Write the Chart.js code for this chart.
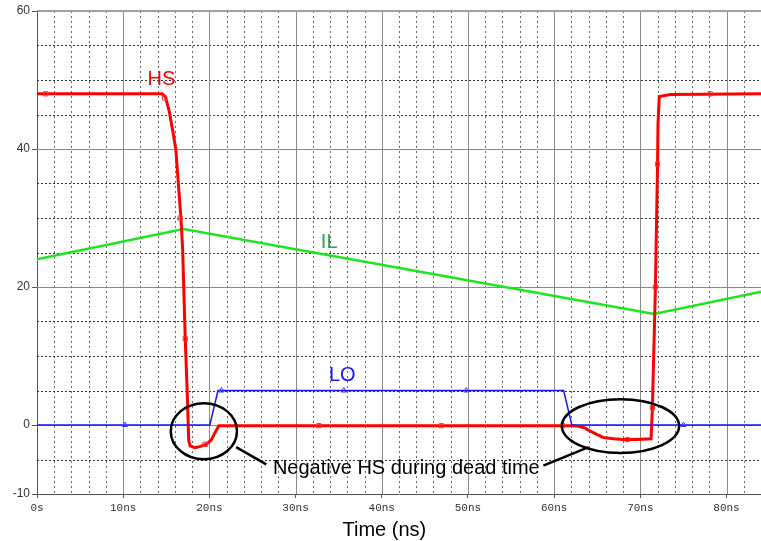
<!DOCTYPE html>
<html>
<head>
<meta charset="utf-8">
<script src="https://cdn.jsdelivr.net/npm/chart.js@4/dist/chart.umd.min.js"></script>
<style>
  html, body { margin:0; padding:0; background:#fff; }
  canvas { display:block; }
</style>
</head>
<body>
<canvas id="grafico" width="761" height="541"></canvas>
<script>
// ===============================
// DATA
// ===============================

// HS node voltage (red)
const hsTime = [0, 14.5, 14.9, 15.35, 15.8, 16.1, 16.4, 16.7, 16.9, 17.2, 17.45, 17.6, 17.75, 18.3, 19.0, 19.6, 20.2, 20.7, 21.1,
                62.0, 62.8, 63.5, 64.2, 65.0, 65.7, 66.9, 68.0, 69.5, 71.25, 71.4, 71.75, 72.0, 72.05, 72.2, 73.5, 84];
const hsVolt = [48, 48, 47.6, 45.4, 42.3, 40, 35, 30, 25.4, 12.5, 4, -2.2, -3.0, -3.3, -3.1, -2.8, -2.2, -1.0, -0.1,
                -0.1, -0.2, -0.4, -0.9, -1.4, -1.8, -2.0, -2.1, -2.1, -2.0, 2.5, 20, 38, 43.7, 47.6, 47.9, 48];
const hsMarkTime = [1.0, 14.8, 16.6, 17.2, 19.5, 32.7, 46.9, 61.0, 68.5, 71.4, 71.75, 72.0, 78.1];
const hsMarkVolt = [48, 47.4, 30, 12.5, -2.8, -0.1, -0.1, -0.1, -2.1, 2.5, 20, 37.8, 48];

// LO gate (blue)
const loTime = [0, 20.05, 21.0, 61.1, 62.05, 84];
const loVolt = [0, 0, 5, 5, 0, 0];
const loMarkTime = [10.2, 21.4, 35.6, 49.8, 75.0];
const loMarkVolt = [0, 5, 5, 5, 0];

// IL inductor current (green)
const ilTime = [0, 17.0, 71.6, 84];
const ilAmp  = [24.0, 28.4, 16.1, 19.3];

// axes
const xTicks = [0, 10, 20, 30, 40, 50, 60, 70, 80];
const yTicks = [-10, 0, 20, 40, 60];

// ===============================
// GRID (PSpice style)
// ===============================

const gradePlugin = {
  id: "grade",
  beforeDatasetsDraw(chart){
    const {ctx, chartArea:a, scales:{x, y}} = chart;
    ctx.save();
    ctx.lineWidth = 1;

    // minor vertical, every 2ns
    ctx.setLineDash([2,3]);
    ctx.strokeStyle = "#666";
    for(let t = 2; t < x.max; t += 2){
      if(t % 10 === 0) continue;
      const px = Math.round(x.getPixelForValue(t)) + 0.5;
      ctx.beginPath(); ctx.moveTo(px, a.top); ctx.lineTo(px, a.bottom); ctx.stroke();
    }

    // minor horizontal, every 5
    ctx.setLineDash([2,2]);
    ctx.strokeStyle = "#333";
    for(let v = -5; v < 60; v += 5){
      if(v % 20 === 0) continue;
      const py = Math.round(y.getPixelForValue(v)) + 0.5;
      ctx.beginPath(); ctx.moveTo(a.left, py); ctx.lineTo(a.right, py); ctx.stroke();
    }

    // major lines
    ctx.setLineDash([]);
    ctx.strokeStyle = "#8a8a8a";
    xTicks.forEach(t=>{
      if(t === 0) return;
      const px = Math.round(x.getPixelForValue(t)) + 0.5;
      ctx.beginPath(); ctx.moveTo(px, a.top); ctx.lineTo(px, a.bottom); ctx.stroke();
    });
    [0, 20, 40].forEach(v=>{
      const py = Math.round(y.getPixelForValue(v)) + 0.5;
      ctx.beginPath(); ctx.moveTo(a.left, py); ctx.lineTo(a.right, py); ctx.stroke();
    });

    // top frame
    ctx.strokeStyle = "#a0a0a0";
    ctx.lineWidth = 2;
    ctx.beginPath(); ctx.moveTo(a.left, a.top); ctx.lineTo(a.right, a.top); ctx.stroke();

    ctx.restore();
  }
};

// ===============================
// ANNOTATIONS
// ===============================

const anotacaoPlugin = {
  id: "anotacao",
  afterDatasetsDraw(chart){
    const {ctx, chartArea:a, scales:{x, y}} = chart;
    const px = v => x.getPixelForValue(v);
    const py = v => y.getPixelForValue(v);

    ctx.save();

    // ellipses round the negative HS
    ctx.strokeStyle = "#000";
    ctx.lineWidth = 2.5;
    [[19.36, -0.9, 3.84, 4.06], [67.7, -0.15, 6.8, 3.9]].forEach(e=>{
      ctx.beginPath();
      ctx.ellipse(px(e[0]), py(e[1]), px(e[0] + e[2]) - px(e[0]), py(e[1]) - py(e[1] + e[3]), 0, 0, Math.PI*2);
      ctx.stroke();
    });

    // callout lines
    [[23.1, -3.2, 26.6, -5.7], [58.75, -5.9, 64.0, -3.2]].forEach(l=>{
      ctx.beginPath();
      ctx.moveTo(px(l[0]), py(l[1]));
      ctx.lineTo(px(l[2]), py(l[3]));
      ctx.stroke();
    });

    ctx.textAlign = "center";
    ctx.textBaseline = "middle";

    ctx.font = "20px 'Liberation Sans', Arial, sans-serif";
    ctx.fillStyle = "#000";
    ctx.fillText("Negative HS during dead time", px(42.85), py(-6.23));

    // trace names
    ctx.fillStyle = "#ff0000";
    ctx.fillText("HS", px(14.43), py(50.1));
    ctx.fillStyle = "#1515ff";
    ctx.fillText("LO", px(35.42), py(7.2));
    ctx.fillStyle = "#2aa84a";
    ctx.fillText("IL", px(33.9), py(26.5));

    // axis title
    ctx.fillStyle = "#000";
    ctx.fillText("Time (ns)", px(40.3), a.bottom + 36);

    ctx.restore();
  }
};

// ===============================
// CHART
// ===============================

const pts = (xs, ys) => xs.map((t, i) => ({x: t, y: ys[i]}));

const ctx = document.getElementById("grafico").getContext("2d");

const grafico = new Chart(ctx, {
  type: "scatter",
  data: {
    datasets: [
      {
        label: "IL",
        data: pts(ilTime, ilAmp),
        showLine: true,
        borderColor: "#1ee61e",
        borderWidth: 2.5,
        pointRadius: 0,
        order: 4
      },
      {
        label: "HS",
        data: pts(hsTime, hsVolt),
        showLine: true,
        borderColor: "#ff0000",
        borderWidth: 3,
        pointRadius: 0,
        order: 3
      },
      {
        label: "HS marks",
        data: pts(hsMarkTime, hsMarkVolt),
        showLine: false,
        pointStyle: "rect",
        pointRadius: 3,
        borderColor: "#ff3030",
        backgroundColor: "rgba(0,0,0,0)",
        borderWidth: 1,
        order: 2
      },
      {
        label: "LO",
        data: pts(loTime, loVolt),
        showLine: true,
        borderColor: "#1515ff",
        borderWidth: 1.5,
        pointRadius: 0,
        order: 1
      },
      {
        label: "LO marks",
        data: pts(loMarkTime, loMarkVolt),
        showLine: false,
        pointStyle: "triangle",
        pointRadius: 3,
        borderColor: "#3a3aff",
        backgroundColor: "rgba(0,0,0,0)",
        borderWidth: 1,
        order: 0
      }
    ]
  },
  options: {
    responsive: false,
    devicePixelRatio: 1,
    animation: false,
    layout: { autoPadding: false, padding: { top: 11, left: 0, right: 0, bottom: 0 } },
    plugins: {
      legend: { display: false },
      tooltip: { enabled: false }
    },
    scales: {
      x: {
        type: "linear",
        min: 0,
        max: 84,
        afterBuildTicks: s => { s.ticks = xTicks.map(v => ({value: v})); },
        afterFit: s => { s.height = 47; s.paddingLeft = 0; s.paddingRight = 0; },
        ticks: {
          callback: v => v === 0 ? "0s" : v + "ns",
          font: { family: "'Liberation Mono', monospace", size: 11 },
          color: "#333",
          padding: 3,
          maxRotation: 0,
          autoSkip: false
        },
        grid: { drawOnChartArea: false, tickLength: 4, color: "#555" },
        border: { color: "#555", width: 1 }
      },
      y: {
        type: "linear",
        min: -10,
        max: 60,
        afterBuildTicks: s => { s.ticks = yTicks.map(v => ({value: v})); },
        afterFit: s => { s.width = 37; s.paddingTop = 0; s.paddingBottom = 0; },
        ticks: {
          font: { family: "'Liberation Sans', Arial, sans-serif", size: 12 },
          color: "#333",
          padding: 2,
          autoSkip: false
        },
        grid: { drawOnChartArea: false, tickLength: 5, color: "#555" },
        border: { color: "#555", width: 1 }
      }
    }
  },
  plugins: [gradePlugin, anotacaoPlugin]
});
</script>
</body>
</html>
